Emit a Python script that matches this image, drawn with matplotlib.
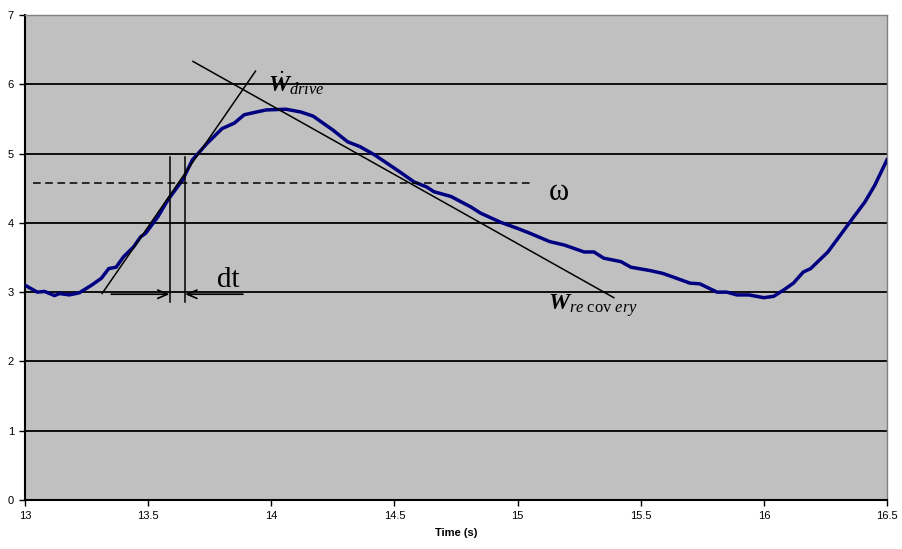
import matplotlib.pyplot as plt

plt.rcParams['mathtext.fontset'] = 'custom'
plt.rcParams['mathtext.rm'] = 'Liberation Serif'
plt.rcParams['mathtext.it'] = 'Liberation Serif:italic'
plt.rcParams['mathtext.bf'] = 'Liberation Serif:bold'
plt.rcParams['mathtext.bfit'] = 'Liberation Serif:italic:bold'

# angular velocity trace
time = [13.00, 13.05, 13.08, 13.12, 13.14, 13.18, 13.22, 13.27, 13.31, 13.34,
        13.37, 13.40, 13.44, 13.47, 13.49, 13.54, 13.58, 13.64, 13.68, 13.74,
        13.80, 13.85, 13.89, 13.94, 13.98, 14.06, 14.12, 14.17, 14.21, 14.25,
        14.31, 14.36, 14.42, 14.47, 14.52, 14.58, 14.63, 14.66, 14.73, 14.81,
        14.85, 14.93, 15.00, 15.05, 15.13, 15.19, 15.27, 15.31, 15.35, 15.42,
        15.46, 15.54, 15.59, 15.63, 15.70, 15.74, 15.81, 15.85, 15.89, 15.94,
        16.00, 16.04, 16.08, 16.12, 16.16, 16.19, 16.26, 16.31, 16.37, 16.41,
        16.45, 16.50]
omega = [3.10, 3.00, 3.01, 2.95, 2.98, 2.96, 2.99, 3.10, 3.20, 3.34,
         3.36, 3.51, 3.65, 3.80, 3.85, 4.09, 4.33, 4.62, 4.91, 5.15,
         5.36, 5.44, 5.56, 5.60, 5.63, 5.64, 5.60, 5.54, 5.44, 5.34,
         5.17, 5.10, 4.98, 4.86, 4.74, 4.59, 4.52, 4.45, 4.38, 4.23,
         4.14, 4.01, 3.92, 3.85, 3.73, 3.68, 3.58, 3.58, 3.49, 3.44,
         3.36, 3.31, 3.27, 3.22, 3.13, 3.12, 3.00, 3.00, 2.96, 2.96,
         2.92, 2.94, 3.03, 3.13, 3.29, 3.34, 3.58, 3.82, 4.11, 4.30,
         4.54, 4.91]

# construction lines
drive_x = [13.313, 13.936]
drive_y = [2.98, 6.19]
recovery_x = [13.682, 15.391]
recovery_y = [6.33, 2.92]
mean_x = [13.034, 15.06]
mean_y = 4.58
dt_marks = [13.587, 13.650]
dt_y = [2.86, 4.95]

xticks = [13, 13.5, 14, 14.5, 15, 15.5, 16, 16.5]
xlabels = ['13', '13.5', '14', '14.5', '15', '15.5', '16', '16.5']

fig = plt.figure(figsize=(9.02, 5.49), dpi=100)
ax = fig.add_axes([25/902, 1 - 500/549, 862/902, 485/549])
ax.set_facecolor('#C0C0C0')

ax.set_xlim(13, 16.5)
ax.set_ylim(0, 7)
ax.set_yticks(range(8))
ax.set_xticks(xticks)
ax.set_xticklabels(xlabels)
ax.yaxis.grid(True, color='black', lw=1.3)
ax.set_axisbelow(True)
ax.tick_params(direction='out', length=4, width=1, labelsize=8, pad=4)
for lab in ax.get_xticklabels() + ax.get_yticklabels():
    lab.set_family('Liberation Sans')
ax.set_xlabel('Time (s)', fontsize=8, fontweight='bold', family='Liberation Sans', labelpad=5)

for s in ['left', 'bottom']:
    ax.spines[s].set_color('black')
    ax.spines[s].set_linewidth(1.5)
for s in ['top', 'right']:
    ax.spines[s].set_color('#808080')
    ax.spines[s].set_linewidth(1)

ax.plot(time, omega, color='#000080', lw=2.5, zorder=3)

ax.plot(drive_x, drive_y, color='black', lw=1.1, zorder=4)
ax.plot(recovery_x, recovery_y, color='black', lw=1.1, zorder=4)
ax.plot(mean_x, [mean_y, mean_y], color='black', lw=1.1, ls=(0, (5, 3)), zorder=4)
for xm in dt_marks:
    ax.plot([xm, xm], dt_y, color='black', lw=1.1, zorder=4)

arrow = dict(arrowstyle='->,head_length=0.7,head_width=0.3', color='black', lw=1.2,
             shrinkA=0, shrinkB=0)
ax.annotate('', xy=(dt_marks[0], 2.97), xytext=(13.35, 2.97), arrowprops=arrow)
ax.annotate('', xy=(dt_marks[1], 2.97), xytext=(13.885, 2.97), arrowprops=arrow)

ax.text(13.78, 3.07, 'dt', fontsize=21, family='Liberation Serif', va='baseline')
ax.text(15.125, 4.44, '\u03c9', fontsize=22, family='Liberation Serif', va='center')
ax.text(13.985, 5.89, r'$\dot{\mathbfit{W}}_{\mathit{drive}}$', fontsize=17, va='baseline')
ax.text(15.125, 2.74, r'$\mathbfit{W}_{\mathit{re}\ \mathrm{cov}\ \mathit{ery}}$', fontsize=17, va='baseline')

fig.savefig('out.png', dpi=100)
